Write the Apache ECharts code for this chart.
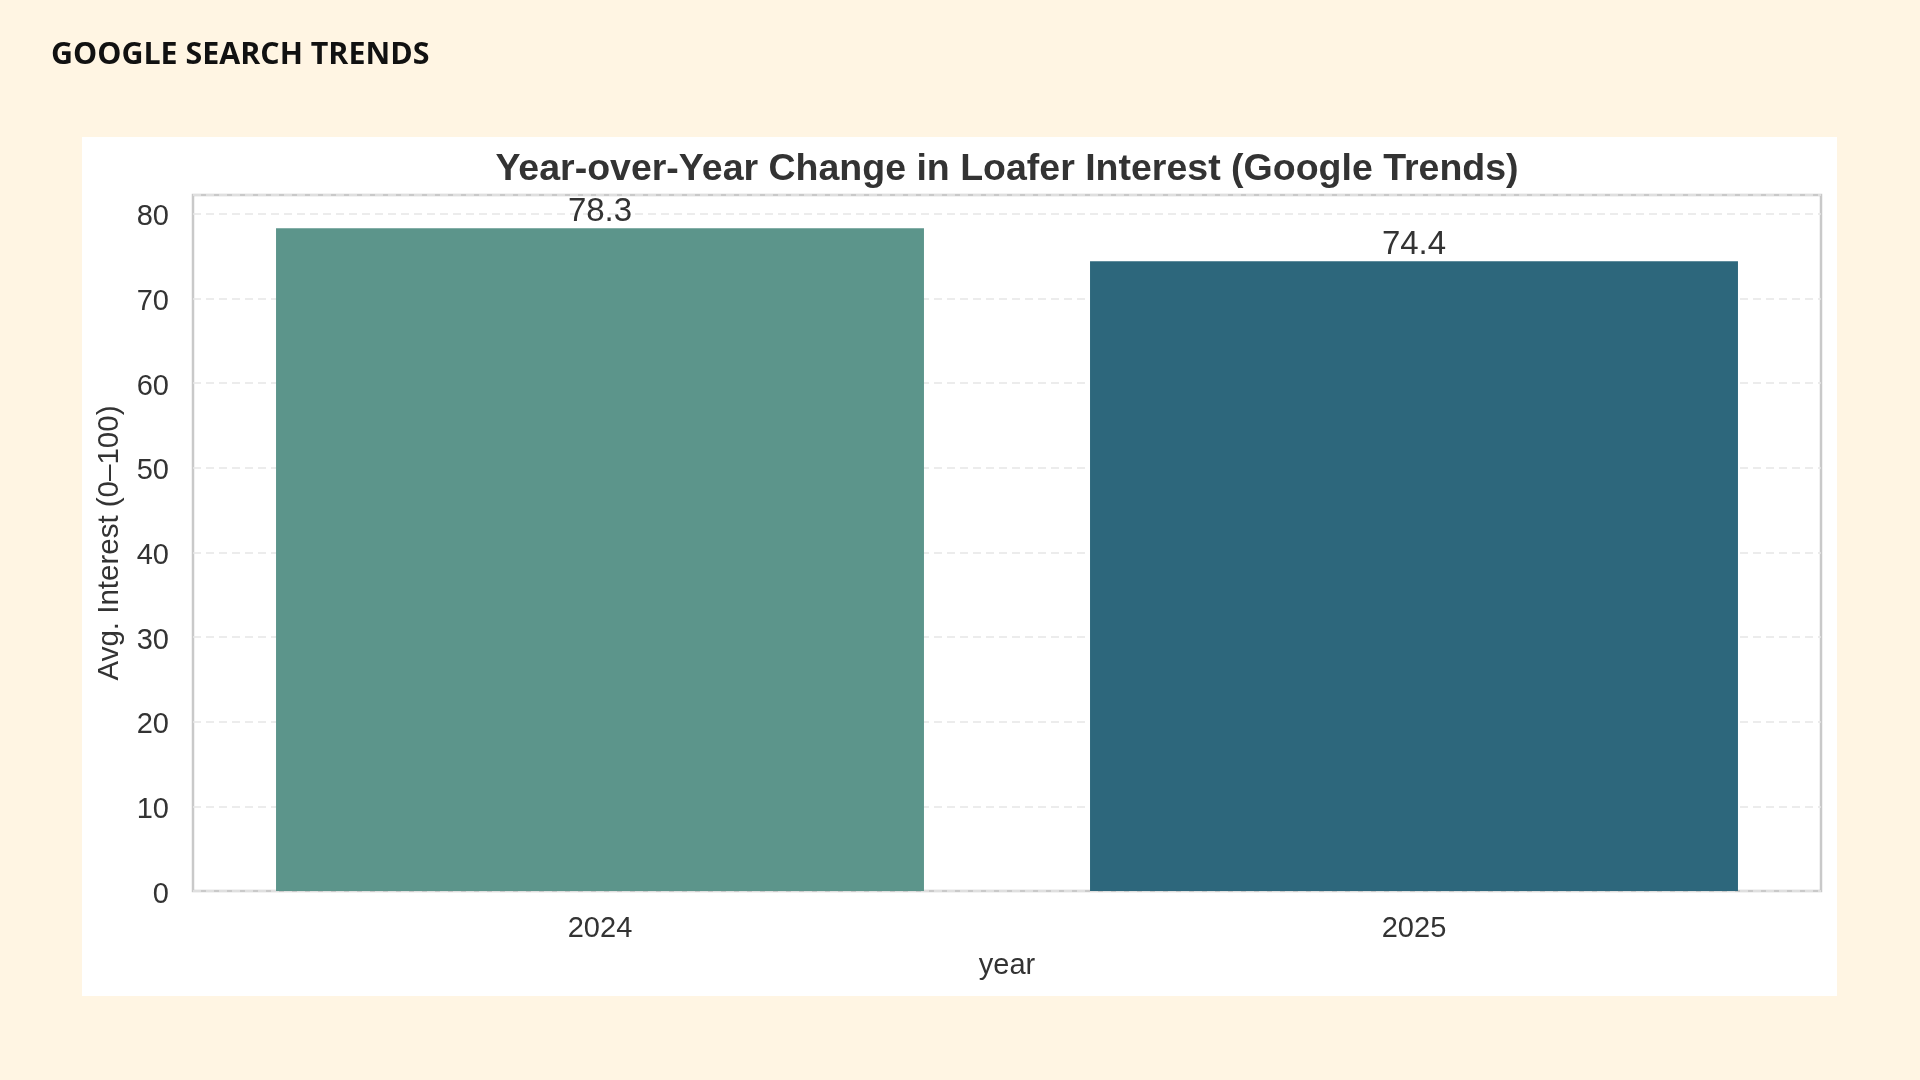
<!DOCTYPE html>
<html>
<head>
<meta charset="utf-8">
<style>
  html, body { margin: 0; padding: 0; background: #FFF5E3; }
  #chart { width: 1920px; height: 1080px; }
</style>
<script src="https://cdn.jsdelivr.net/npm/echarts@6/dist/echarts.min.js"></script>
</head>
<body>
<div id="chart"></div>
<script>
const years = ['2024', '2025'];
const avgInterest = [78.3, 74.4];
const barColors = ['#5C958B', '#2D677C'];
const yTicks = [0, 10, 20, 30, 40, 50, 60, 70, 80];

const chart = echarts.init(document.getElementById('chart'), null, { renderer: 'canvas' });
const FONT = '"Liberation Sans", Arial, sans-serif';
const TXT = '#333333';

chart.setOption({
  backgroundColor: '#FFF5E3',
  animation: false,
  graphic: [
    { type: 'rect', z: -10, silent: true,
      shape: { x: 82, y: 137, width: 1755, height: 859 },
      style: { fill: '#FFFFFF' } },
    { type: 'text', z: 10, left: 51, top: 40,
      style: { text: 'GOOGLE SEARCH TRENDS', fill: '#111111',
        font: 'bold 30.4px "Open Sans", sans-serif' } },
    { type: 'text', z: 10, x: 1007, y: 170,
      style: { text: 'Year-over-Year Change in Loafer Interest (Google Trends)',
        fill: TXT, font: 'bold 37.5px ' + FONT, align: 'center', verticalAlign: 'middle' } }
  ],
  grid: {
    left: 193, top: 195, width: 1628, height: 696,
    show: true, borderColor: '#C9C9C9', borderWidth: 2.5, backgroundColor: 'transparent'
  },
  xAxis: {
    type: 'category', data: years,
    axisLine: { show: false }, axisTick: { show: false },
    axisLabel: { fontFamily: FONT, fontSize: 29, color: TXT, margin: 23 },
    name: 'year', nameLocation: 'middle', nameGap: 60,
    nameTextStyle: { fontFamily: FONT, fontSize: 29, color: TXT }
  },
  yAxis: {
    type: 'value', min: 0, max: 82.215, interval: 10,
    showMaxLabel: false,
    axisLine: { show: false }, axisTick: { show: false },
    axisLabel: { fontFamily: FONT, fontSize: 29, color: TXT, margin: 24,
      verticalAlign: 'top', padding: [-11, 0, 0, 0],
      formatter: v => (yTicks.indexOf(v) >= 0 ? String(v) : '') },
    splitLine: { show: true, lineStyle: { color: '#E6E6E6', width: 1.5, type: [8, 5] } },
    name: 'Avg. Interest (0–100)', nameLocation: 'middle', nameGap: 68, nameRotate: 90,
    nameTextStyle: { fontFamily: FONT, fontSize: 29.5, color: TXT }
  },
  series: [{
    type: 'bar',
    barCategoryGap: '20.4%',
    data: avgInterest.map((v, i) => ({ value: v, itemStyle: { color: barColors[i] } })),
    label: {
      show: true, position: 'top', distance: 0,
      fontFamily: FONT, fontSize: 33, color: TXT,
      formatter: p => p.value.toFixed(1)
    }
  }]
});
</script>
</body>
</html>
